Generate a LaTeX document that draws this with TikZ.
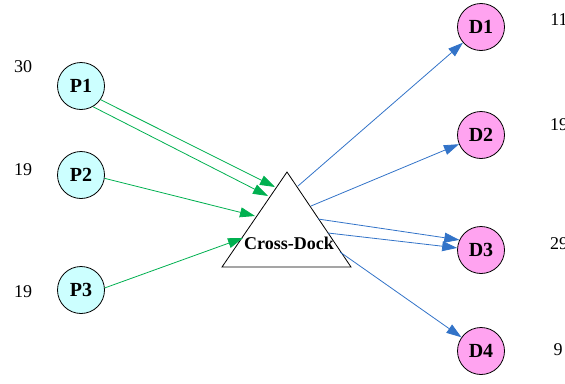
\documentclass[tikz,border=0pt]{standalone}
\usepackage{fontspec}
\setmainfont{Liberation Serif}
\usetikzlibrary{arrows.meta}
\definecolor{flowg}{RGB}{0,176,80}
\definecolor{flowb}{RGB}{50,115,200}
\definecolor{pfill}{RGB}{204,255,255}
\definecolor{dfill}{RGB}{255,163,240}
\tikzset{
  plant/.style={circle, draw=black, line width=0.8pt, fill=pfill, minimum size=47pt, inner sep=0pt, font=\fontsize{20}{22}\selectfont\bfseries},
  dest/.style={circle, draw=black, line width=0.8pt, fill=dfill, minimum size=47pt, inner sep=0pt, font=\fontsize{20}{22}\selectfont\bfseries},
  qty/.style={inner sep=0pt, font=\fontsize{18}{20}\selectfont},
  gflow/.style={draw=flowg, line width=0.8pt, -{Triangle[length=15pt,width=10pt]}},
  bflow/.style={draw=flowb, line width=0.8pt, -{Triangle[length=15pt,width=10pt]}},
}
\begin{document}
\begin{tikzpicture}[x=1pt, y=-1pt]
\useasboundingbox (0,0) rectangle (565,383);
% cross-dock triangle
\coordinate (tA) at (287,172);
\coordinate (tL) at (222,267);
\coordinate (tR) at (351,267);
\draw[line width=0.8pt, fill=white] (tA) -- (tR) -- (tL) -- cycle;
\node[inner sep=0pt, font=\fontsize{18}{20}\selectfont\bfseries] (CD) at (289,243) {Cross-Dock};
% plants
\node[plant] (P1) at (81,86) {P1};
\node[plant] (P2) at (81,175) {P2};
\node[plant] (P3) at (81,290) {P3};
% destinations
\node[dest] (D1) at (481,27) {D1};
\node[dest] (D2) at (481,135) {D2};
\node[dest] (D3) at (481,250) {D3};
\node[dest] (D4) at (481,351) {D4};
% quantities
\node[qty] (q1) at (23,67) {30};
\node[qty] (q2) at (23,170) {19};
\node[qty] (q3) at (23,292) {19};
\node[qty] (r1) at (559,20) {11};
\node[qty] (r2) at (559,125) {19};
\node[qty] (r3) at (559,244) {29};
\node[qty] (r4) at (558,350) {9};
% inbound ends on triangle
\coordinate (in1) at (275,187);
\coordinate (in2) at (268,196);
\coordinate (in3) at (255,216);
\coordinate (in4) at (243,238);
% outbound starts on triangle
\coordinate (o1) at (298,186);
\coordinate (o2) at (311,206);
\coordinate (o3) at (318,219);
\coordinate (o4) at (328,233);
\coordinate (o5) at (340,252);
% inbound flows
\draw[gflow] (P1.-35) -- (in1);
\draw[gflow] (P1.-60) -- (in2);
\draw[gflow] (P2.-8) -- (in3);
\draw[gflow] (P3.5) -- (in4);
% outbound flows
\draw[bflow] (o1) -- (D1);
\draw[bflow] (o2) -- (D2);
\draw[bflow] (o3) -- (D3.155);
\draw[bflow] (o4) -- (D3.175);
\draw[bflow] (o5) -- (D4);
\end{tikzpicture}
\end{document}
